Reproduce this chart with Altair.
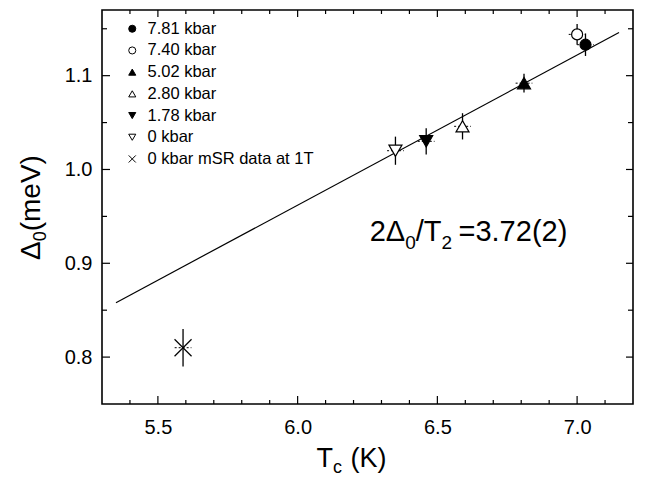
import altair as alt
import pandas as pd

# ---- data ----
labels = ["7.81 kbar", "7.40 kbar", "5.02 kbar", "2.80 kbar", "1.78 kbar", "0 kbar",
          "0 kbar mSR data at 1T"]
tc = [7.03, 7.00, 6.81, 6.59, 6.46, 6.35, 5.59]
gap = [1.133, 1.144, 1.092, 1.046, 1.030, 1.020, 0.810]
gap_err = [0.012, 0.011, 0.010, 0.014, 0.014, 0.015, 0.020]
tc_err = [0.03, 0.03, 0.03, 0.03, 0.03, 0.03, 0.03]
shapes = ["circle", "circle", "triangle-up", "triangle-up", "triangle-down", "triangle-down",
          "M-1,-1L1,1M1,-1L-1,1"]
fills = ["black", "white", "black", "white", "black", "white", "white"]
sizes = [121, 121, 169, 169, 169, 169, 289]

fit_tc = [5.35, 7.15]
fit_gap = [0.858, 1.146]

x_major = [5.5, 6.0, 6.5, 7.0]
x_minor = [5.4, 5.6, 5.7, 5.8, 5.9, 6.1, 6.2, 6.3, 6.4, 6.6, 6.7, 6.8, 6.9, 7.1]
y_major = [0.8, 0.9, 1.0, 1.1]
y_minor = [0.85, 0.95, 1.05, 1.15]

W, H = 531, 394
FONT = "Liberation Sans"

df = pd.DataFrame({"label": labels, "tc": tc, "gap": gap, "sz": sizes})
df["lo"] = df["gap"] - pd.Series(gap_err)
df["hi"] = df["gap"] + pd.Series(gap_err)
df["tlo"] = df["tc"] - pd.Series(tc_err)
df["thi"] = df["tc"] + pd.Series(tc_err)
df = df.iloc[::-1].reset_index(drop=True)

xs = alt.Scale(domain=[5.3, 7.2], nice=False, zero=False)
ys = alt.Scale(domain=[0.75, 1.17], nice=False, zero=False)
xa = alt.Axis(values=x_major, format=".1f", ticks=False, domain=False, grid=False,
              labelFontSize=20, labelFont=FONT, labelColor="black", labelPadding=13, title=None)
ya = alt.Axis(values=y_major, format=".1f", ticks=False, domain=False, grid=False,
              labelFontSize=20, labelFont=FONT, labelColor="black", labelPadding=10, title=None)

fit = alt.Chart(pd.DataFrame({"tc": fit_tc, "gap": fit_gap})).mark_line(
    color="black", strokeWidth=1.2
).encode(
    x=alt.X("tc:Q", scale=xs, axis=xa),
    y=alt.Y("gap:Q", scale=ys, axis=ya),
)

base = alt.Chart(df)
vbars = base.mark_rule(color="black", strokeWidth=1.3).encode(
    x=alt.X("tc:Q", scale=xs, axis=xa),
    y=alt.Y("lo:Q", scale=ys, axis=ya),
    y2="hi:Q",
)
hbars = base.mark_rule(color="black", strokeWidth=1, strokeDash=[2, 2]).encode(
    x=alt.X("tlo:Q", scale=xs, axis=xa),
    x2="thi:Q",
    y=alt.Y("gap:Q", scale=ys, axis=ya),
)

leg = alt.Legend(orient="none", legendX=22, legendY=10.5, title=None, labelFontSize=16.5,
                 labelFont=FONT, labelColor="black", labelLimit=400, symbolSize=50,
                 rowPadding=4.7, padding=0, labelOffset=7, symbolStrokeWidth=1,
                 symbolStrokeColor="black")
points = base.mark_point(filled=True, opacity=1, strokeWidth=1.2).encode(
    x=alt.X("tc:Q", scale=xs, axis=xa),
    y=alt.Y("gap:Q", scale=ys, axis=ya),
    shape=alt.Shape("label:N", scale=alt.Scale(domain=labels, range=shapes), legend=leg),
    fill=alt.Fill("label:N", scale=alt.Scale(domain=labels, range=fills), legend=leg),
    stroke=alt.Stroke("label:N", scale=alt.Scale(domain=labels, range=["black"] * 7), legend=leg),
    size=alt.Size("sz:Q", scale=None),
)


def xticks(vals, y1, y2):
    return alt.Chart(pd.DataFrame({"tc": vals})).mark_rule(color="black", strokeWidth=1.2).encode(
        x=alt.X("tc:Q", scale=xs, axis=xa), y=alt.value(y1), y2=alt.value(y2))


def yticks(vals, x1, x2):
    return alt.Chart(pd.DataFrame({"gap": vals})).mark_rule(color="black", strokeWidth=1.2).encode(
        y=alt.Y("gap:Q", scale=ys, axis=ya), x=alt.value(x1), x2=alt.value(x2))


ticks = [
    xticks(x_major, H, H - 8), xticks(x_minor, H, H - 4),
    xticks(x_major, 0, 7), xticks(x_minor, 0, 4),
    yticks(y_major, 0, 8), yticks(y_minor, 0, 5),
    yticks(y_major, W, W - 7), yticks(y_minor, W, W - 5),
]


def txt(s, x, y, size, angle=0):
    props = dict(text=s, font=FONT, fontSize=size, color="black", align="left",
                 baseline="alphabetic")
    if angle:
        props["angle"] = angle
    return alt.Chart(pd.DataFrame({"a": [0]})).mark_text(**props).encode(
        x=alt.value(x), y=alt.value(y))


# x title  T_c (K)
xt = [txt("T", 214.5, 457, 27), txt("c", 231.0, 463, 18), txt("(K)", 248.5, 457, 27)]
# y title  Δ_0(meV)  (rotated)
yt = [txt("Δ", -62.3, 250, 28, 270), txt("0", -56.3, 231.3, 18, 270),
      txt("(meV)", -62.3, 221.3, 28, 270)]
# annotation 2Δ_0/T_2 =3.72(2)
an = [txt("2Δ", 267.7, 230.7, 29), txt("0", 303.2, 238.5, 19), txt("/T", 313.8, 230.7, 29),
      txt("2", 339.6, 238.5, 19), txt("=3.72(2)", 356.5, 230.7, 29)]

chart = alt.layer(fit, *ticks, vbars, hbars, points, *xt, *yt, *an).properties(
    width=W, height=H,
    padding={"left": 102, "top": 10, "right": 13, "bottom": 76},
    autosize=alt.AutoSizeParams(type="none"),
).configure_view(stroke="black", strokeWidth=1.6)

chart.save("out.html", embed_options={"renderer": "svg", "actions": False})
